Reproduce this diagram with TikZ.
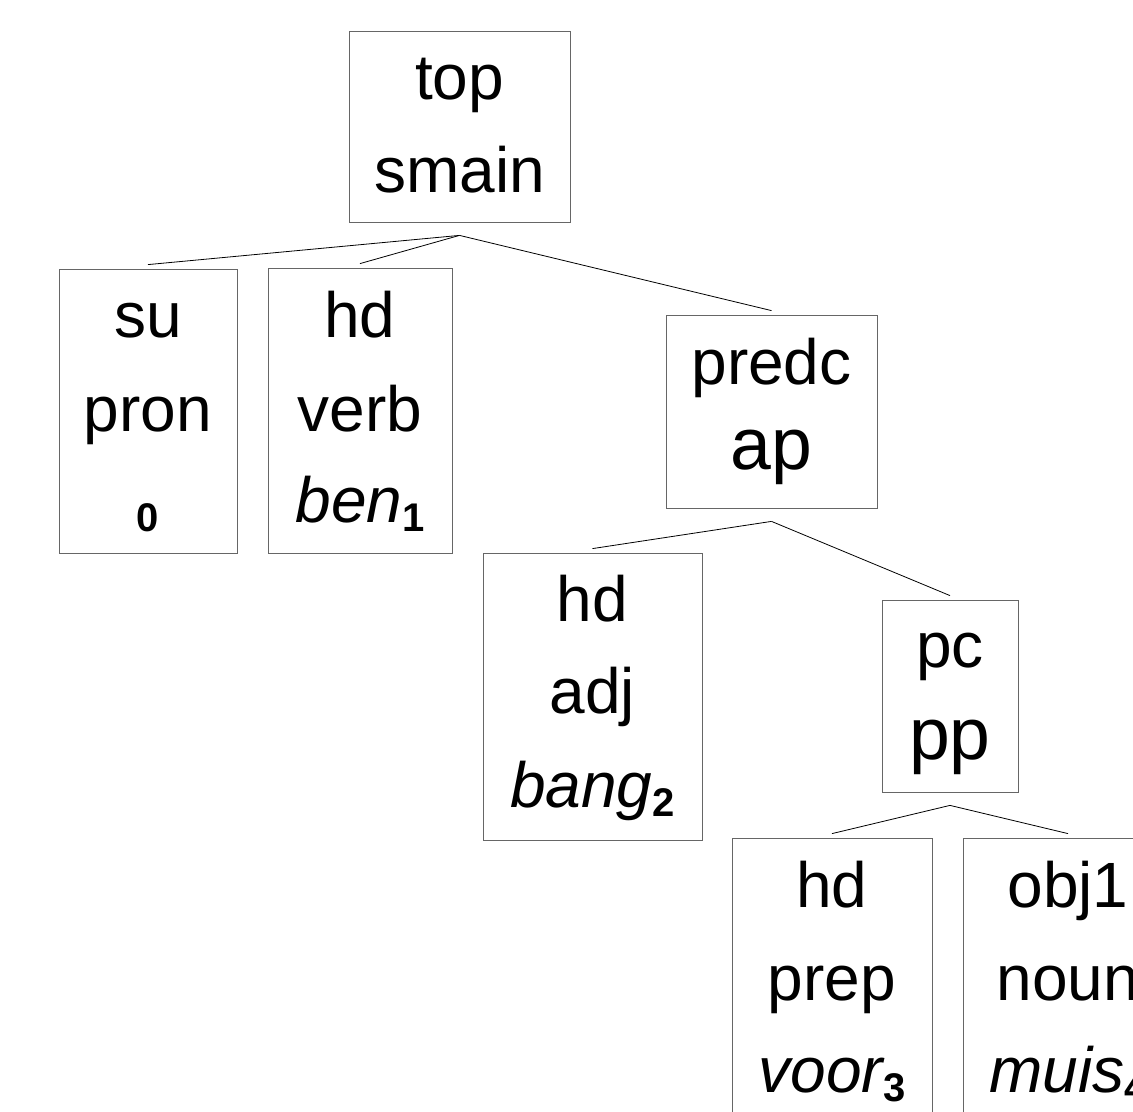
\documentclass[tikz,border=0pt]{standalone}
\usepackage{fontspec}
\setmainfont{Liberation Sans}
\newcommand\myidx[1]{\raisebox{-6.75pt}{\fontsize{30}{30}\selectfont\bfseries\upshape #1}}
\begin{document}
\begin{tikzpicture}[x=0.75pt,y=-0.75pt,
  box/.style 2 args={draw=black!60, line width=0.6pt, inner sep=0pt,
    minimum width=#1*0.75pt, minimum height=#2*0.75pt},
  lbl/.style={anchor=base, inner sep=0pt, font=\fontsize{48}{48}\selectfont},
  biglbl/.style={anchor=base, inner sep=0pt, font=\fontsize{55}{55}\selectfont},
  wrd/.style={anchor=base, inner sep=0pt, font=\fontsize{48}{48}\selectfont\itshape},
  conn/.style={draw=black, line width=0.6pt}]
\useasboundingbox (0,0) rectangle (1133,1112);
\clip (0,0) rectangle (1133,1112);

% boxes (center x, center y)
\node[box={221}{191}] (top) at (459.5,126.5) {};
\node[box={178}{284}] (su) at (148,411) {};
\node[box={184}{285}] (hdv) at (360,410.5) {};
\node[box={211}{193}] (predc) at (771.5,411.5) {};
\node[box={219}{287}] (hda) at (592.5,696.5) {};
\node[box={136}{192}] (pc) at (950,696) {};
\node[box={200}{285}] (hdp) at (832,980.5) {};
\node[box={210}{285}] (obj) at (1068,980.5) {};

% texts
\node[lbl] (t1) at (459.5,100) {top};
\node[lbl] (t2) at (459.5,193) {smain};

\node[lbl] (s1) at (148,338) {su};
\node[lbl] (s2) at (148,432) {pron};
\node[wrd] (s3) at (148,523) {\myidx{0}};

\node[lbl] (v1) at (360,338) {hd};
\node[lbl] (v2) at (360,432) {verb};
\node[wrd] (v3) at (360,523) {ben\myidx{1}};

\node[lbl] (p1) at (771.5,385) {predc};
\node[biglbl] (p2) at (771.5,470) {ap};

\node[lbl] (a1) at (592.5,622) {hd};
\node[lbl] (a2) at (592.5,714) {adj};
\node[wrd] (a3) at (592.5,807) {bang\myidx{2}};

\node[lbl] (c1) at (950,668) {pc};
\node[biglbl] (c2) at (950,759) {pp};

\node[lbl] (r1) at (832,907) {hd};
\node[lbl] (r2) at (832,1000) {prep};
\node[wrd] (r3) at (832,1092) {voor\myidx{3}};

\node[lbl] (o1) at (1068,907) {obj1};
\node[lbl] (o2) at (1068,1000) {noun};
\node[wrd] (o3) at (1068,1092) {muis\myidx{4}};

% connectors
\coordinate (topA) at ([yshift=-9.75pt]top.south);
\coordinate (predcA) at ([yshift=-9.75pt]predc.south);
\coordinate (pcA) at ([yshift=-9.75pt]pc.south);
\draw[conn] (topA) -- ([yshift=3pt]su.north);
\draw[conn] (topA) -- ([yshift=3pt]hdv.north);
\draw[conn] (topA) -- ([yshift=3pt]predc.north);
\draw[conn] (predcA) -- ([yshift=3pt]hda.north);
\draw[conn] (predcA) -- ([yshift=3pt]pc.north);
\draw[conn] (pcA) -- ([yshift=3pt]hdp.north);
\draw[conn] (pcA) -- ([yshift=3pt]obj.north);
\end{tikzpicture}
\end{document}
